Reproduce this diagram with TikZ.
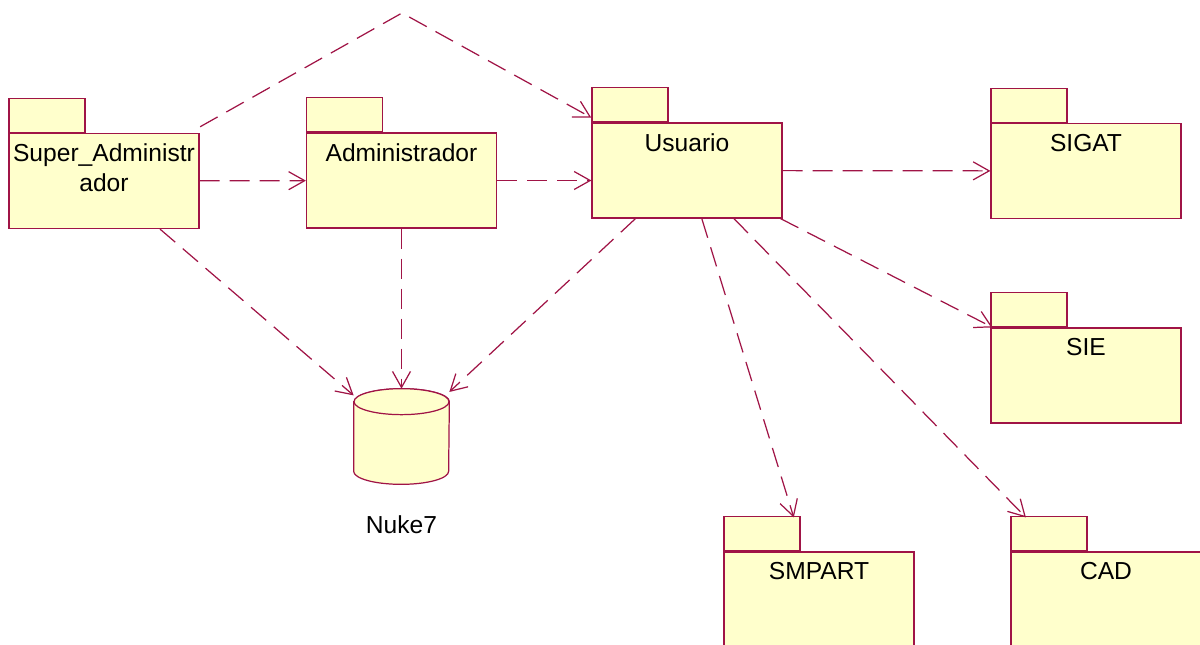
\documentclass[tikz,border=0pt]{standalone}
\usepackage{fontspec}
\setmainfont{Liberation Sans}
\usepackage{xcolor}
\usepackage{tikz}
\usetikzlibrary{arrows.meta}
\definecolor{roseline}{RGB}{160,20,70}
\definecolor{rosefill}{RGB}{255,255,204}

\begin{document}
\begin{tikzpicture}[
    x=0.02cm, y=-0.02cm,
    package/.style={draw=roseline, fill=rosefill, line width=0.7pt, minimum width=3.8cm, minimum height=1.9cm, inner sep=0pt},
    tab/.style={draw=roseline, fill=rosefill, line width=0.7pt, minimum width=1.52cm, minimum height=0.68cm, anchor=south west, inner sep=0pt},
    title/.style={anchor=north, yshift=-0.1cm, align=center, font=\fontsize{14}{17}\selectfont},
    database/.style={minimum width=1.9cm, minimum height=1.9cm, inner sep=0pt},
    dbshape/.style={draw=roseline, fill=rosefill, line width=0.7pt},
    line/.style={roseline, line width=0.7pt, dash pattern=on 0.4cm off 0.2cm, -{Straight Barb[length=0.32cm, width=0.36cm]}}
]
\useasboundingbox (0,0) rectangle (1200,645);

\node[package, label={[title]north:{Super\_Administr\\ador}}] (super) at (104,181) {};
\node[tab] (superTab) at (super.north west) {};

\node[package, label={[title]north:Administrador}] (admin) at (401.5,180.5) {};
\node[tab] (adminTab) at (admin.north west) {};

\node[package, label={[title]north:Usuario}] (usuario) at (687,170.5) {};
\node[tab] (usuarioTab) at (usuario.north west) {};

\node[package, label={[title]north:SIGAT}] (sigat) at (1086,171) {};
\node[tab] (sigatTab) at (sigat.north west) {};

\node[package, label={[title]north:SIE}] (sie) at (1086,375.5) {};
\node[tab] (sieTab) at (sie.north west) {};

\node[package, label={[title]north:SMPART}] (smpart) at (819,599.5) {};
\node[tab] (smpartTab) at (smpart.north west) {};

\node[package, label={[title]north:CAD}] (cad) at (1106,599.5) {};
\node[tab] (cadTab) at (cad.north west) {};

% database
\node[database, label={[title, anchor=north, yshift=-0.4cm]south:Nuke7}] (nuke) at (401.5,436.5) {};
\draw[dbshape] ([yshift=-0.26cm]nuke.north west) -- ([yshift=0.26cm]nuke.south west)
    arc[start angle=180, end angle=360, x radius=0.95cm, y radius=0.26cm]
    -- ([yshift=-0.26cm]nuke.north east)
    arc[start angle=0, end angle=180, x radius=0.95cm, y radius=0.26cm] -- cycle;
\draw[dbshape] ([yshift=-0.26cm]nuke.north) ellipse[x radius=0.95cm, y radius=0.26cm];

\coordinate (peak) at (402,13);

\draw[line] (super) -- (admin);
\draw[line, shorten <=0.25cm, shorten >=0.2cm] (super) -- (peak) -- (usuario);
\draw[line] (admin.east) -- (admin.east -| usuario.west);
\draw[line] (usuario) -- (sigat);
\draw[line] (usuario) -- (sie);
\draw[line, shorten >=0.71cm] (usuario) -- (smpart);
\draw[line, shorten >=0.95cm] (usuario) -- (cad);
\draw[line] (usuario) -- (nuke);
\draw[line] (admin) -- (nuke);
\draw[line] (super) -- (nuke);

\end{tikzpicture}
\end{document}
